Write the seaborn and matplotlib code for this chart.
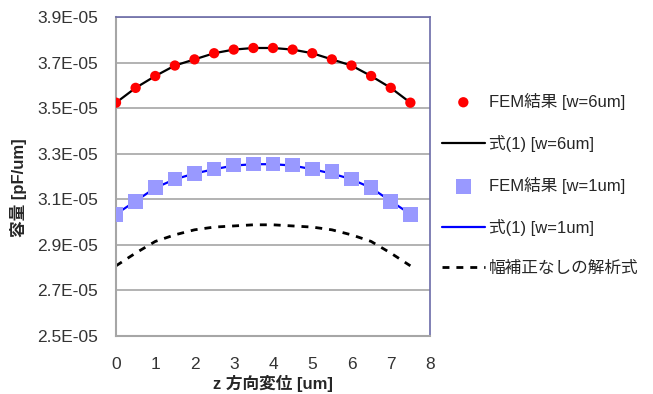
import matplotlib
matplotlib.use("Agg")
import matplotlib.pyplot as plt
import pandas as pd
import seaborn as sns
from matplotlib.ticker import FixedLocator, FuncFormatter

# displacement along z [um]
z_um = [0, 0.5, 1, 1.5, 2, 2.5, 3, 3.5, 4, 4.5, 5, 5.5, 6, 6.5, 7, 7.5]

# capacitance in units of 1E-05 pF/um
fem_w6 = [3.524, 3.589, 3.641, 3.687, 3.714, 3.741, 3.757, 3.764,
          3.764, 3.757, 3.741, 3.714, 3.687, 3.641, 3.589, 3.524]
eq1_w6 = [3.524, 3.589, 3.641, 3.687, 3.714, 3.741, 3.757, 3.764,
          3.764, 3.757, 3.741, 3.714, 3.687, 3.641, 3.589, 3.524]
fem_w1 = [3.032, 3.090, 3.151, 3.189, 3.214, 3.232, 3.251, 3.255,
          3.255, 3.251, 3.232, 3.222, 3.189, 3.151, 3.090, 3.032]
eq1_w1 = [3.035, 3.092, 3.150, 3.188, 3.213, 3.232, 3.248, 3.254,
          3.254, 3.248, 3.232, 3.213, 3.188, 3.150, 3.092, 3.035]
no_corr = [2.808, 2.864, 2.915, 2.944, 2.966, 2.978, 2.983, 2.988,
           2.988, 2.983, 2.978, 2.966, 2.944, 2.915, 2.864, 2.808]

x_ticks = [0, 1, 2, 3, 4, 5, 6, 7, 8]
y_ticks = [2.5, 2.7, 2.9, 3.1, 3.3, 3.5, 3.7, 3.9]

labels = ["FEM結果 [w=6um]", "式(1) [w=6um]", "FEM結果 [w=1um]",
          "式(1) [w=1um]", "幅補正なしの解析式"]

df = pd.DataFrame({"z": z_um, "fem6": fem_w6, "eq6": eq1_w6,
                   "fem1": fem_w1, "eq1": eq1_w1, "nc": no_corr})

sns.set_theme(style="white")
plt.rcParams["font.family"] = ["Liberation Sans", "Noto Sans CJK JP", "DejaVu Sans"]

fig = plt.figure(figsize=(6.53, 3.94), dpi=100)
ax = fig.add_axes([116 / 653, 1 - 336 / 394, 314 / 653, 319 / 394])

sns.lineplot(data=df, x="z", y="eq6", ax=ax, color="black", lw=1.6, label=labels[1], zorder=2)
sns.scatterplot(data=df, x="z", y="fem6", ax=ax, color="#ff0000", marker="o", s=55,
                edgecolor="none", label=labels[0], zorder=3)
sns.lineplot(data=df, x="z", y="eq1", ax=ax, color="#0000ff", lw=1.6, label=labels[3], zorder=2)
sns.scatterplot(data=df, x="z", y="fem1", ax=ax, color="#9999ff", marker="s", s=110,
                edgecolor="none", label=labels[2], zorder=3)
sns.lineplot(data=df, x="z", y="nc", ax=ax, color="black", lw=2.0,
             linestyle=(0, (2.5, 2.5)), label=labels[4], zorder=2)

ax.set_xlim(0, 8)
ax.set_ylim(2.5, 3.9)
ax.xaxis.set_major_locator(FixedLocator(x_ticks))
ax.yaxis.set_major_locator(FixedLocator(y_ticks))
ax.yaxis.set_major_formatter(FuncFormatter(lambda v, _: f"{v:.1f}E-05"))
ax.grid(axis="y", color="#a6a6a6", lw=1.2)
ax.set_axisbelow(True)

for side in ["left", "bottom"]:
    ax.spines[side].set_color("#a6a6a6")
    ax.spines[side].set_linewidth(1.5)
for side in ["top", "right"]:
    ax.spines[side].set_color("#6b6ba8")
    ax.spines[side].set_linewidth(1.2)

ax.tick_params(axis="both", direction="out", length=5, width=1, color="#a6a6a6",
               labelsize=12.5, labelcolor="#333333")
ax.tick_params(axis="y", pad=8)
ax.tick_params(axis="x", pad=10)

ax.set_xlabel("z 方向変位 [um]", fontsize=12, fontweight="bold", labelpad=2)
ax.set_ylabel("容量 [pF/um]", fontsize=12, fontweight="bold")
ax.yaxis.set_label_coords(-0.285, 0.464)

handles, labs = ax.get_legend_handles_labels()
order = [labs.index(l) for l in labels]
ax.legend([handles[i] for i in order], [labs[i] for i in order],
          loc="center left", bbox_to_anchor=(1.0, 0.476), frameon=False,
          fontsize=12, labelspacing=1.5, handlelength=2.6, handletextpad=0.25,
          borderaxespad=0.3)

fig.savefig("out.png", dpi=100)
